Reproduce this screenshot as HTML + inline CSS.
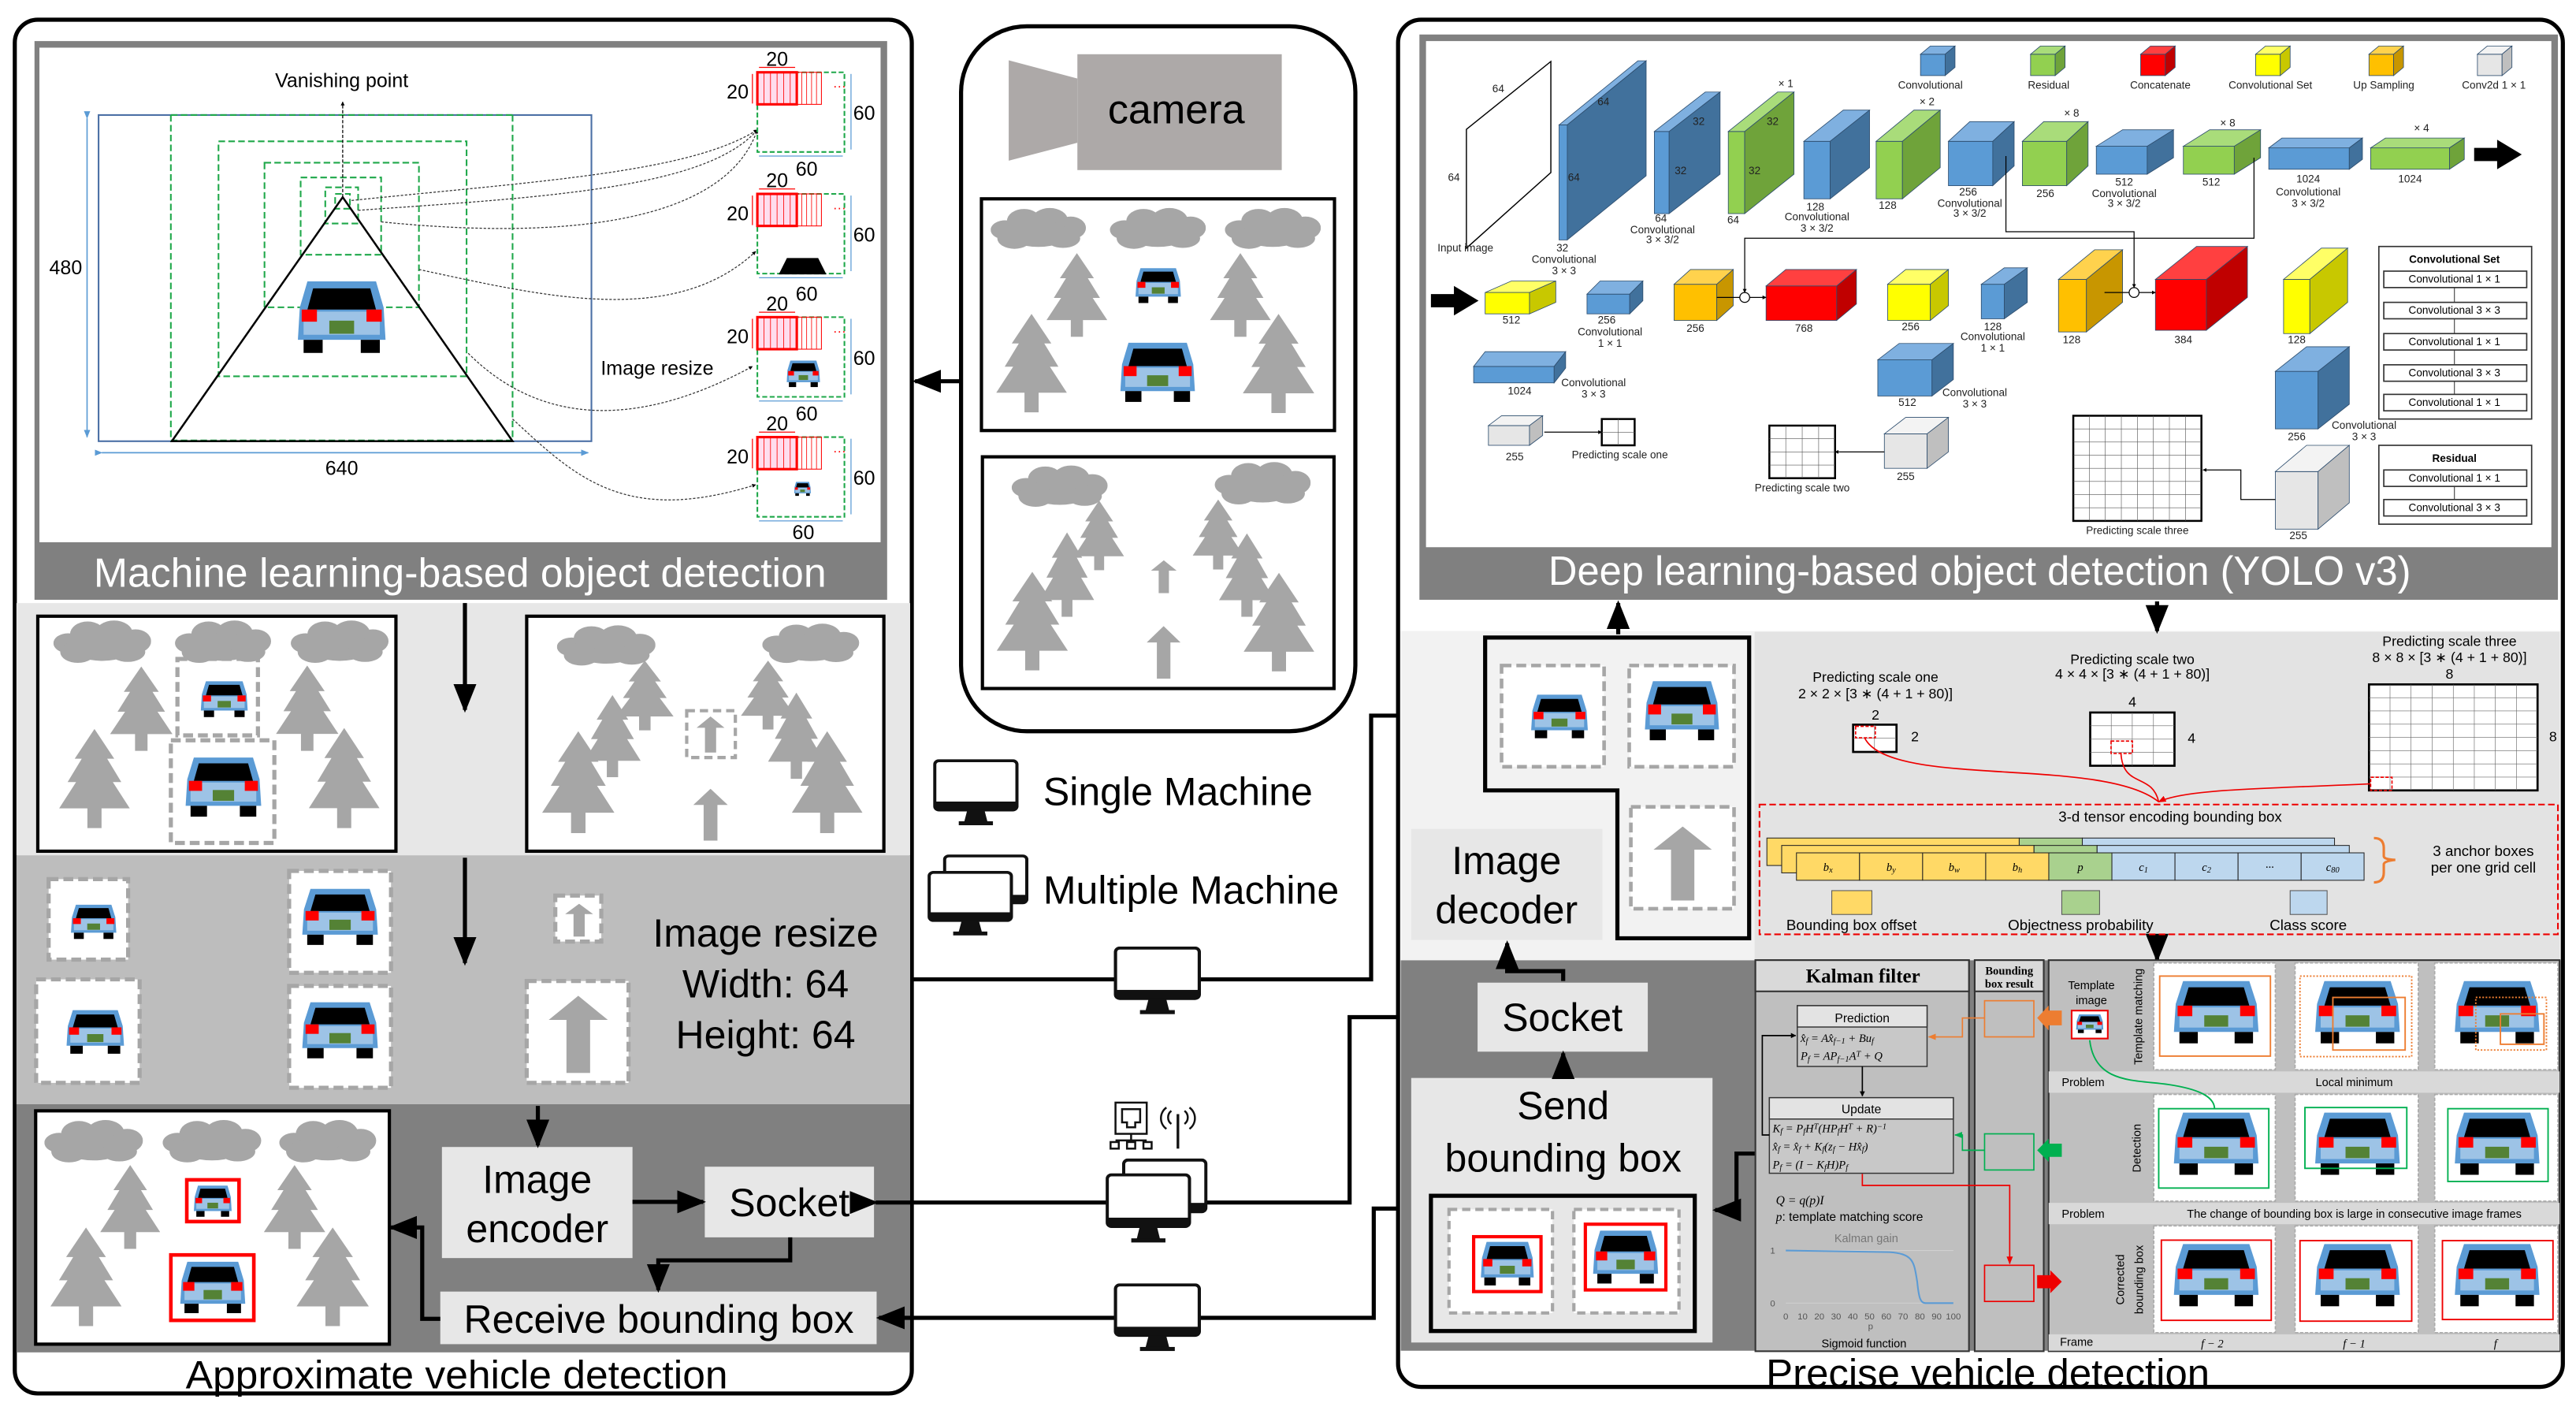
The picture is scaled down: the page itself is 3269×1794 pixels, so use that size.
<!DOCTYPE html>
<html><head><meta charset="utf-8"><style>
html,body{margin:0;padding:0;background:#fff;}
svg{display:block;font-family:"Liberation Sans",sans-serif;}
</style></head><body>
<svg width="3269" height="1794" viewBox="0 0 1568 860.5" preserveAspectRatio="none" xmlns="http://www.w3.org/2000/svg">
<defs>
<symbol id="tree" viewBox="0 0 100 140" preserveAspectRatio="none"><path d="M50 0 L78 42 L68 42 L88 75 L76 75 L100 112 L0 112 L24 75 L12 75 L32 42 L22 42 Z" fill="#a6a6a6"/><rect x="40" y="111" width="20" height="29" fill="#a6a6a6"/></symbol>
<symbol id="cloud" viewBox="0 0 100 45" preserveAspectRatio="none"><g fill="#a6a6a6"><ellipse cx="15" cy="24" rx="15" ry="10"/><ellipse cx="35" cy="15" rx="18" ry="13"/><ellipse cx="62" cy="14" rx="19" ry="13"/><ellipse cx="84" cy="22" rx="16" ry="12"/><ellipse cx="50" cy="28" rx="32" ry="14"/><ellipse cx="25" cy="33" rx="18" ry="11"/><ellipse cx="76" cy="33" rx="18" ry="10"/></g></symbol>
<symbol id="car" viewBox="0 0 100 75" preserveAspectRatio="none"><path d="M14 2 L86 2 L94 28 L96 60 L4 60 L6 28 Z" fill="#5b9bd5"/><rect x="10" y="32" width="80" height="23" fill="#9dc3e6"/><path d="M20 9 L80 9 L86 30 L14 30 Z" fill="#000"/><rect x="8" y="30" width="16" height="12" fill="#f00"/><rect x="76" y="30" width="16" height="12" fill="#f00"/><rect x="37" y="41" width="26" height="13" fill="#548235"/><rect x="10" y="60" width="20" height="13" fill="#000"/><rect x="70" y="60" width="20" height="13" fill="#000"/></symbol>
<symbol id="arr" viewBox="0 0 100 160" preserveAspectRatio="none"><polygon points="50,0 100,50 70,50 70,160 30,160 30,50 0,50" fill="#a6a6a6"/></symbol>
<symbol id="mon" viewBox="0 0 160 140" preserveAspectRatio="none"><rect x="3" y="3" width="154" height="100" rx="8" fill="#fff" stroke="#111" stroke-width="6"/><rect x="3" y="86" width="154" height="17" fill="#111"/><polygon points="64,103 96,103 102,128 58,128" fill="#111"/><rect x="48" y="126" width="64" height="8" fill="#111"/></symbol>
<marker id="ah" viewBox="0 0 10 10" refX="9" refY="5" markerWidth="4" markerHeight="4" orient="auto"><path d="M0 0 L10 5 L0 10 Z" fill="#000"/></marker>
<marker id="as" viewBox="0 0 10 10" refX="9" refY="5" markerWidth="7" markerHeight="7" orient="auto"><path d="M0 1 L10 5 L0 9 Z" fill="#000"/></marker>
<marker id="ar" viewBox="0 0 10 10" refX="9" refY="5" markerWidth="6" markerHeight="6" orient="auto"><path d="M0 1 L10 5 L0 9 Z" fill="#e00"/></marker>
<marker id="ao" viewBox="0 0 10 10" refX="9" refY="5" markerWidth="6" markerHeight="6" orient="auto"><path d="M0 1 L10 5 L0 9 Z" fill="#ed7d31"/></marker>
<marker id="ag" viewBox="0 0 10 10" refX="9" refY="5" markerWidth="6" markerHeight="6" orient="auto"><path d="M0 1 L10 5 L0 9 Z" fill="#00b050"/></marker>
<marker id="ab" viewBox="0 0 10 10" refX="9" refY="5" markerWidth="6" markerHeight="6" orient="auto"><path d="M0 1 L10 5 L0 9 Z" fill="#5b9bd5"/></marker>
</defs>

<!-- ================= LEFT PANEL ================= -->
<rect x="9" y="12" width="546" height="836" rx="14" fill="#fff" stroke="#000" stroke-width="2.5"/>
<rect x="21" y="25" width="519" height="340" fill="#808080"/>
<rect x="24" y="29" width="512" height="301" fill="#fff"/>
<text x="280" y="357" font-size="25" fill="#fff" text-anchor="middle" textLength="446" lengthAdjust="spacingAndGlyphs">Machine learning-based object detection</text>
<!-- vanishing figure -->
<rect x="60" y="70" width="300" height="198.5" fill="none" stroke="#4a6fa5" stroke-width="1"/>
<g fill="none" stroke="#1fa84a" stroke-width="1" stroke-dasharray="4 2">
<line x1="104" y1="70" x2="104" y2="268"/><line x1="312" y1="70" x2="312" y2="268"/><line x1="104" y1="268" x2="312" y2="268"/><line x1="104" y1="70" x2="312" y2="70"/>
<rect x="133" y="86" width="151" height="143"/><rect x="161" y="99" width="94" height="88"/><rect x="183" y="108" width="49" height="47"/><rect x="198" y="114" width="20" height="22"/><rect x="204" y="118" width="9" height="9"/>
</g>
<polygon points="208.6,120 104.6,268.5 312,268.5" fill="none" stroke="#000" stroke-width="1.2"/>
<use href="#car" x="179" y="170" width="58" height="46"/>
<line x1="208.6" y1="120" x2="208.6" y2="62" stroke="#000" stroke-width="0.6" stroke-dasharray="2 1" marker-end="url(#ah)"/>
<text x="208" y="53" font-size="12" text-anchor="middle">Vanishing point</text>
<line x1="53" y1="72" x2="53" y2="266" stroke="#5b9bd5" stroke-width="0.8" marker-end="url(#ab)" marker-start="url(#ab)"/>
<text x="40" y="167" font-size="12" text-anchor="middle">480</text>
<line x1="62" y1="275.5" x2="358" y2="275.5" stroke="#5b9bd5" stroke-width="0.8" marker-end="url(#ab)" marker-start="url(#ab)"/>
<text x="208" y="289" font-size="12" text-anchor="middle">640</text>
<text x="400" y="228" font-size="12" text-anchor="middle">Image resize</text>
<g fill="none" stroke="#333" stroke-width="0.6" stroke-dasharray="1.5 1">
<path d="M214 122 C330 110 420 105 461 79" marker-end="url(#ah)"/>
<path d="M218 128 C330 120 430 115 461 79" marker-end="url(#ah)"/>
<path d="M232 135 C330 145 440 140 461 79" marker-end="url(#ah)"/>
<path d="M255 164 C330 180 410 200 460 153" marker-end="url(#ah)"/>
<path d="M285 215 C330 260 390 260 458 223" marker-end="url(#ah)"/>
<path d="M312 255 C350 290 380 320 460 295" marker-end="url(#ah)"/>
</g>
<!-- crops -->
<g>
<g id="crop1">
<rect x="461" y="44" width="53" height="48.5" fill="none" stroke="#1fa84a" stroke-width="1" stroke-dasharray="3 1.5"/>
<rect x="485" y="44" width="15" height="19.5" fill="none" stroke="#f00" stroke-width="0.5"/>
<g stroke="#f00" stroke-width="0.4"><line x1="488" y1="44" x2="488" y2="63.5"/><line x1="491" y1="44" x2="491" y2="63.5"/><line x1="494" y1="44" x2="494" y2="63.5"/><line x1="497" y1="44" x2="497" y2="63.5"/></g>
<rect x="461" y="44" width="24" height="19.5" fill="#fde" stroke="#f00" stroke-width="1.5"/>
<g stroke="#f00" stroke-width="0.4"><line x1="465" y1="44" x2="465" y2="63.5"/><line x1="469" y1="44" x2="469" y2="63.5"/><line x1="473" y1="44" x2="473" y2="63.5"/><line x1="477" y1="44" x2="477" y2="63.5"/><line x1="481" y1="44" x2="481" y2="63.5"/></g>
<text x="507" y="55" font-size="8" fill="#f00">···</text>
<line x1="462" y1="41" x2="484" y2="41" stroke="#f00" stroke-width="0.6"/>
<line x1="458" y1="45" x2="458" y2="63" stroke="#f00" stroke-width="0.6"/>
<line x1="518" y1="45" x2="518" y2="91" stroke="#5b9bd5" stroke-width="0.6"/>
<line x1="462" y1="95" x2="513" y2="95" stroke="#5b9bd5" stroke-width="0.6"/>
<text x="449" y="60" font-size="12" text-anchor="middle">20</text>
<text x="473" y="40" font-size="12" text-anchor="middle">20</text>
<text x="526" y="73" font-size="12" text-anchor="middle">60</text>
</g>
<use href="#crop1" y="74"/>
<use href="#crop1" y="149"/>
<use href="#crop1" y="222"/>
<text x="491" y="107" font-size="12" text-anchor="middle">60</text>
<text x="491" y="183" font-size="12" text-anchor="middle">60</text>
<text x="491" y="256" font-size="12" text-anchor="middle">60</text>
<text x="489" y="328" font-size="12" text-anchor="middle">60</text>
<polygon points="479,157 498,157 503,167 474,167" fill="#000"/>
<use href="#car" x="478" y="219" width="22" height="17"/>
<use href="#car" x="483" y="293" width="11" height="9"/>
</g>

<!-- band 2 -->
<rect x="10" y="367" width="544" height="153.5" fill="#e7e7e7"/>
<rect x="23" y="375" width="218" height="143" fill="#fff" stroke="#000" stroke-width="2"/>
<use href="#cloud" x="32.5" y="377" width="59.5" height="27"/>
<use href="#cloud" x="106.5" y="377" width="58.5" height="27"/>
<use href="#cloud" x="177" y="377" width="59.5" height="27"/>
<use href="#tree" x="67" y="405.6" width="38" height="51.4"/>
<use href="#tree" x="36" y="443.6" width="43" height="60.4"/>
<use href="#tree" x="168" y="405" width="38" height="52"/>
<use href="#tree" x="188" y="443" width="43" height="61"/>
<rect x="108" y="401" width="49" height="46.5" fill="none" stroke="#a6a6a6" stroke-width="2.5" stroke-dasharray="6 3"/>
<use href="#car" x="121" y="414" width="31" height="23"/>
<rect x="104" y="450.5" width="63" height="62.5" fill="none" stroke="#a6a6a6" stroke-width="2.5" stroke-dasharray="6 3"/>
<use href="#car" x="111" y="460" width="50" height="38"/>
<rect x="320.6" y="375" width="217.4" height="143" fill="#fff" stroke="#000" stroke-width="2"/>
<use href="#cloud" x="339" y="380" width="60" height="25.6"/>
<use href="#cloud" x="464" y="379" width="59" height="25"/>
<use href="#tree" x="375" y="402" width="35" height="42.5"/>
<use href="#tree" x="355.6" y="423" width="34.4" height="50"/>
<use href="#tree" x="330" y="445" width="44" height="62"/>
<use href="#tree" x="451" y="402" width="33" height="42"/>
<use href="#tree" x="467.5" y="421.5" width="34.5" height="52.5"/>
<use href="#tree" x="482" y="445" width="43" height="62"/>
<rect x="418" y="432.5" width="29.6" height="28.5" fill="none" stroke="#a6a6a6" stroke-width="2" stroke-dasharray="5 3"/>
<use href="#arr" x="424" y="436" width="17" height="22"/>
<use href="#arr" x="422" y="480" width="21" height="31.6"/>

<!-- band 3 -->
<rect x="10" y="520.5" width="544" height="151.5" fill="#bdbdbd"/>
<g fill="#fff" stroke="#a6a6a6" stroke-width="2.5" stroke-dasharray="6 3">
<rect x="29.6" y="535" width="48.4" height="49"/><rect x="176" y="530" width="62" height="62"/><rect x="22" y="596" width="63" height="63"/><rect x="176" y="600" width="62" height="62"/><rect x="338" y="545" width="28" height="28"/><rect x="320.6" y="597" width="62" height="62"/>
</g>
<use href="#car" x="42" y="550" width="30" height="22"/>
<use href="#car" x="182" y="540" width="50" height="36"/>
<use href="#car" x="39" y="614" width="38" height="28"/>
<use href="#car" x="182" y="609" width="50" height="36"/>
<use href="#arr" x="344" y="550" width="17" height="20"/>
<use href="#arr" x="334" y="606" width="36" height="47"/>
<text x="466" y="576" font-size="24" text-anchor="middle">Image resize</text>
<text x="466" y="607" font-size="24" text-anchor="middle">Width: 64</text>
<text x="466" y="638" font-size="24" text-anchor="middle">Height: 64</text>

<!-- band 4 -->
<rect x="10" y="672" width="544" height="151" fill="#808080"/>
<rect x="21.7" y="676" width="215.3" height="142" fill="#fff" stroke="#000" stroke-width="2"/>
<use href="#cloud" x="27" y="681" width="60" height="27"/>
<use href="#cloud" x="99" y="681" width="60" height="27"/>
<use href="#cloud" x="170" y="681" width="59" height="27"/>
<use href="#tree" x="61" y="709" width="36.5" height="51"/>
<use href="#tree" x="30.7" y="747" width="43.3" height="60"/>
<use href="#tree" x="160.6" y="709" width="37.4" height="51"/>
<use href="#tree" x="180.5" y="747" width="44" height="60"/>
<rect x="113.7" y="718" width="31.8" height="25.4" fill="none" stroke="#f00" stroke-width="2.2"/>
<use href="#car" x="117" y="721" width="25" height="20"/>
<rect x="104" y="763.7" width="50.5" height="39.8" fill="none" stroke="#f00" stroke-width="2.2"/>
<use href="#car" x="108" y="767" width="43" height="33"/>
<rect x="269" y="698" width="116" height="67.6" fill="#e7e7e7"/>
<text x="327" y="726" font-size="24" text-anchor="middle">Image</text>
<text x="327" y="756" font-size="24" text-anchor="middle">encoder</text>
<rect x="429" y="710" width="103" height="43" fill="#e7e7e7"/>
<text x="480.5" y="740" font-size="24" text-anchor="middle">Socket</text>
<rect x="268" y="786" width="265.6" height="32" fill="#e7e7e7"/>
<text x="401" y="811" font-size="24" text-anchor="middle">Receive bounding box</text>
<g fill="none" stroke="#000" stroke-width="2.5">
<line x1="283" y1="367" x2="283" y2="432" marker-end="url(#as)"/>
<line x1="283" y1="522" x2="283" y2="586" marker-end="url(#as)"/>
<line x1="327.4" y1="673" x2="327.4" y2="697" marker-end="url(#as)"/>
<line x1="385" y1="731.4" x2="428" y2="731.4" marker-end="url(#as)"/>
<polyline points="481,753 481,767 400.7,767 400.7,785" marker-end="url(#as)"/>
<polyline points="268,802.6 257,802.6 257,747 238,747" marker-end="url(#as)"/>
</g>
<text x="278" y="845" font-size="24" text-anchor="middle" textLength="330" lengthAdjust="spacingAndGlyphs">Approximate vehicle detection</text>

<!-- ================= MIDDLE ================= -->
<rect x="585" y="16" width="240" height="429" rx="40" fill="#fff" stroke="#000" stroke-width="2.5"/>
<rect x="655.8" y="33" width="124.4" height="70.5" fill="#ada9a8"/>
<polygon points="614,36.7 655.8,47.8 655.8,86.9 614,97.8" fill="#ada9a8"/>
<text x="716" y="75" font-size="25" text-anchor="middle">camera</text>
<rect x="597.4" y="121" width="214.9" height="141" fill="#fff" stroke="#000" stroke-width="2"/>
<use href="#cloud" x="603" y="126" width="58" height="26"/>
<use href="#cloud" x="675.6" y="126" width="58.4" height="26"/>
<use href="#cloud" x="745.6" y="126" width="58.4" height="26"/>
<use href="#tree" x="637" y="154" width="37" height="51"/>
<use href="#tree" x="606.4" y="191" width="43" height="60"/>
<use href="#tree" x="736.5" y="154" width="37" height="51"/>
<use href="#tree" x="756.5" y="191" width="43.5" height="60.4"/>
<use href="#car" x="690" y="162.6" width="30" height="22.4"/>
<use href="#car" x="680" y="207.6" width="49.3" height="38"/>
<rect x="598" y="278" width="214" height="141" fill="#fff" stroke="#000" stroke-width="2"/>
<use href="#cloud" x="615.8" y="282.7" width="58.4" height="26.3"/>
<use href="#cloud" x="739.4" y="280.6" width="58.4" height="27"/>
<use href="#tree" x="653.9" y="304.6" width="30.3" height="42.4"/>
<use href="#tree" x="633" y="324" width="33" height="51.4"/>
<use href="#tree" x="606.7" y="348" width="43.3" height="60"/>
<use href="#tree" x="726" y="304" width="31" height="42.6"/>
<use href="#tree" x="742" y="324.6" width="34" height="50.8"/>
<use href="#tree" x="757" y="348.6" width="43" height="60"/>
<use href="#arr" x="700.6" y="341" width="15.6" height="20"/>
<use href="#arr" x="698" y="381" width="20.6" height="32"/>
<line x1="584" y1="232" x2="557" y2="232" stroke="#000" stroke-width="2.5" marker-end="url(#as)"/>
<!-- legend -->
<use href="#mon" x="568" y="462" width="52" height="42"/>
<text x="635" y="490" font-size="24">Single Machine</text>
<use href="#mon" x="574" y="520" width="52" height="40"/>
<use href="#mon" x="564.6" y="530" width="52" height="41"/>
<text x="635" y="550" font-size="24">Multiple Machine</text>
<!-- connectors -->
<g fill="none" stroke="#000" stroke-width="2.5">
<polyline points="556,596 834.6,596 834.6,435.5 903,435.5" marker-end="url(#as)"/>
<polyline points="874.5,435.5 874.5,492.6 915.5,492.6 915.5,504.4"/>
<polyline points="533,731.8 821.5,731.8 821.5,619 897,619" marker-end="url(#as)" marker-start="url(#as)"/>
<polyline points="859,735.5 836.2,735.5 836.2,802 535,802" marker-end="url(#as)"/>
</g>
<use href="#mon" x="678" y="576" width="53" height="43"/>
<use href="#mon" x="683" y="705" width="52" height="44"/>
<use href="#mon" x="673" y="714" width="52" height="44"/>
<use href="#mon" x="678" y="781" width="53" height="43"/>
<g fill="none" stroke="#111" stroke-width="1.2">
<rect x="679" y="671" width="19" height="19"/><path d="M683 675 L694 675 L694 683 L691 683 L691 686 L686 686 L686 683 L683 683 Z"/>
<line x1="688.5" y1="690" x2="688.5" y2="694"/><line x1="679" y1="694" x2="698" y2="694"/>
<rect x="676" y="695" width="5" height="4"/><rect x="686" y="695" width="5" height="4"/><rect x="696" y="695" width="5" height="4"/>
<line x1="717" y1="678" x2="717" y2="699" stroke-width="1.6"/>
<path d="M713 676 A5 5 0 0 0 713 684 M721 676 A5 5 0 0 1 721 684 M710 674 A8 8 0 0 0 710 687 M724 674 A8 8 0 0 1 724 687"/>
</g>

<!-- ================= RIGHT PANEL ================= -->
<rect x="851" y="12" width="709" height="832" rx="14" fill="#fff" stroke="#000" stroke-width="2.5"/>
<rect x="864" y="21" width="693" height="344" fill="#808080"/>
<rect x="868" y="25" width="685" height="308" fill="#fff"/>
<text x="1205" y="356" font-size="25" fill="#fff" text-anchor="middle" textLength="525" lengthAdjust="spacingAndGlyphs">Deep learning-based object detection (YOLO v3)</text>
<!-- YOLO -->
<polygon points="892.6,151 892.6,78.7 944,37.4 944,105" fill="#fff" stroke="#000" stroke-width="0.7"/>
<g stroke="#2d4d6e" stroke-width="0.4">
<g fill="#5b9bd5"><rect x="949" y="76" width="5" height="70"/><rect x="1007" y="80" width="9" height="50"/><rect x="1098" y="86" width="16" height="35"/><rect x="1186" y="86" width="27" height="27"/><rect x="1276" y="89" width="31" height="17"/><rect x="1381" y="90" width="49" height="13"/><rect x="966" y="179" width="26" height="12"/><rect x="1206" y="173" width="14" height="21"/><rect x="897" y="223" width="49" height="10"/><rect x="1143" y="219" width="33" height="22"/><rect x="1385" y="226" width="26" height="35"/></g>
<g fill="#7fb0e0"><polygon points="949,76 997,37 1002,37 954,76"/><polygon points="1007,80 1038,56 1047,56 1016,80"/><polygon points="1098,86 1122,67 1138,67 1114,86"/><polygon points="1186,86 1199,74 1226,74 1213,86"/><polygon points="1276,89 1292,79 1323,79 1307,89"/><polygon points="1381,90 1389,84 1438,84 1430,90"/><polygon points="966,179 974,171 1000,171 992,179"/><polygon points="1206,173 1220,163 1234,163 1220,173"/><polygon points="897,223 904,214 953,214 946,223"/><polygon points="1143,219 1156,209 1189,209 1176,219"/><polygon points="1385,226 1404,211 1430,211 1411,226"/></g>
<g fill="#41719c"><polygon points="954,76 1002,37 1002,107 954,146"/><polygon points="1016,80 1047,56 1047,106 1016,130"/><polygon points="1114,86 1138,67 1138,102 1114,121"/><polygon points="1213,86 1226,74 1226,101 1213,113"/><polygon points="1307,89 1323,79 1323,96 1307,106"/><polygon points="1430,90 1438,84 1438,97 1430,103"/><polygon points="992,179 1000,171 1000,183 992,191"/><polygon points="1220,173 1234,163 1234,184 1220,194"/><polygon points="946,223 953,214 953,224 946,233"/><polygon points="1176,219 1189,209 1189,231 1176,241"/><polygon points="1411,226 1430,211 1430,246 1411,261"/></g>
<g fill="#92d050"><rect x="1052" y="80" width="10" height="50"/><rect x="1142" y="86" width="16" height="35"/><rect x="1231" y="86" width="27" height="27"/><rect x="1329" y="89" width="31" height="17"/><rect x="1443" y="90" width="48" height="13"/></g>
<g fill="#a9dc7a"><polygon points="1052,80 1082,56 1092,56 1062,80"/><polygon points="1142,86 1165,67 1181,67 1158,86"/><polygon points="1231,86 1244,74 1271,74 1258,86"/><polygon points="1329,89 1345,79 1376,79 1360,89"/><polygon points="1443,90 1452,84 1500,84 1491,90"/></g>
<g fill="#6fa33a"><polygon points="1062,80 1092,56 1092,106 1062,130"/><polygon points="1158,86 1181,67 1181,102 1158,121"/><polygon points="1258,86 1271,74 1271,101 1258,113"/><polygon points="1360,89 1376,79 1376,96 1360,106"/><polygon points="1491,90 1500,84 1500,97 1491,103"/></g>
<g fill="#ffff00"><rect x="904" y="178" width="27" height="13"/><rect x="1149" y="173" width="26" height="22"/><rect x="1390" y="170" width="16" height="33"/></g>
<g fill="#ffff66"><polygon points="904,178 920,171 947,171 931,178"/><polygon points="1149,173 1160,164 1186,164 1175,173"/><polygon points="1390,170 1413,151 1429,151 1406,170"/></g>
<g fill="#c8c800"><polygon points="931,178 947,171 947,184 931,191"/><polygon points="1175,173 1186,164 1186,186 1175,195"/><polygon points="1406,170 1429,151 1429,184 1406,203"/></g>
<g fill="#ffc000"><rect x="1019" y="173" width="26" height="22"/><rect x="1253" y="170" width="17" height="32"/></g>
<g fill="#ffd24d"><polygon points="1019,173 1029,164 1055,164 1045,173"/><polygon points="1253,170 1275,152 1292,152 1270,170"/></g>
<g fill="#c89600"><polygon points="1045,173 1055,164 1055,186 1045,195"/><polygon points="1270,170 1292,152 1292,184 1270,202"/></g>
<g fill="#ff0000"><rect x="1075" y="174" width="43" height="21"/><rect x="1312" y="170" width="31" height="31"/></g>
<g fill="#ff4040"><polygon points="1075,174 1087,164 1130,164 1118,174"/><polygon points="1312,170 1337,150 1368,150 1343,170"/></g>
<g fill="#c00000"><polygon points="1118,174 1130,164 1130,185 1118,195"/><polygon points="1343,170 1368,150 1368,181 1343,201"/></g>
<g fill="#e6e6e6"><rect x="906" y="259" width="25" height="12"/><rect x="1147" y="264" width="26" height="21"/><rect x="1385" y="287" width="26" height="35"/></g>
<g fill="#f3f3f3"><polygon points="906,259 914,253 939,253 931,259"/><polygon points="1147,264 1160,254 1186,254 1173,264"/><polygon points="1385,287 1404,271 1430,271 1411,287"/></g>
<g fill="#bfbfbf"><polygon points="931,259 939,253 939,265 931,271"/><polygon points="1173,264 1186,254 1186,275 1173,285"/><polygon points="1411,287 1430,271 1430,306 1411,322"/></g>
<!-- legend cubes -->
<rect x="1169" y="33" width="15" height="13" fill="#5b9bd5"/><polygon points="1169,33 1175,28 1190,28 1184,33" fill="#7fb0e0"/><polygon points="1184,33 1190,28 1190,41 1184,46" fill="#41719c"/>
<rect x="1236" y="33" width="15" height="13" fill="#92d050"/><polygon points="1236,33 1242,28 1257,28 1251,33" fill="#a9dc7a"/><polygon points="1251,33 1257,28 1257,41 1251,46" fill="#6fa33a"/>
<rect x="1303" y="33" width="15" height="13" fill="#f00"/><polygon points="1303,33 1309,28 1324,28 1318,33" fill="#ff4040"/><polygon points="1318,33 1324,28 1324,41 1318,46" fill="#c00000"/>
<rect x="1373" y="33" width="15" height="13" fill="#ff0"/><polygon points="1373,33 1379,28 1394,28 1388,33" fill="#ff6"/><polygon points="1388,33 1394,28 1394,41 1388,46" fill="#c8c800"/>
<rect x="1442" y="33" width="15" height="13" fill="#ffc000"/><polygon points="1442,33 1448,28 1463,28 1457,33" fill="#ffd24d"/><polygon points="1457,33 1463,28 1463,41 1457,46" fill="#c89600"/>
<rect x="1508" y="33" width="15" height="13" fill="#e6e6e6"/><polygon points="1508,33 1514,28 1529,28 1523,33" fill="#f3f3f3"/><polygon points="1523,33 1529,28 1529,41 1523,46" fill="#bfbfbf"/>
</g>
<g font-size="6.5" text-anchor="middle" fill="#222">
<text x="1175" y="54">Convolutional</text><text x="1247" y="54">Residual</text><text x="1315" y="54">Concatenate</text><text x="1382" y="54">Convolutional Set</text><text x="1451" y="54">Up Sampling</text><text x="1518" y="54">Conv2d 1 × 1</text>
<text x="912" y="56">64</text><text x="885" y="110">64</text><text x="892" y="153">Input image</text>
<text x="951" y="153">32</text><text x="952" y="160">Convolutional</text><text x="952" y="167">3 × 3</text>
<text x="976" y="64">64</text><text x="958" y="110">64</text>
<text x="1011" y="135">64</text><text x="1012" y="142">Convolutional</text><text x="1012" y="148">3 × 3/2</text>
<text x="1034" y="76">32</text><text x="1023" y="106">32</text>
<text x="1055" y="136">64</text><text x="1079" y="76">32</text><text x="1068" y="106">32</text>
<text x="1105" y="128">128</text><text x="1106" y="134">Convolutional</text><text x="1106" y="141">3 × 3/2</text>
<text x="1149" y="127">128</text><text x="1198" y="119">256</text><text x="1199" y="126">Convolutional</text><text x="1199" y="132">3 × 3/2</text>
<text x="1245" y="120">256</text><text x="1293" y="113">512</text><text x="1293" y="120">Convolutional</text><text x="1293" y="126">3 × 3/2</text>
<text x="1346" y="113">512</text><text x="1405" y="111">1024</text><text x="1405" y="119">Convolutional</text><text x="1405" y="126">3 × 3/2</text><text x="1467" y="111">1024</text>
<text x="1087" y="53">× 1</text><text x="1173" y="64">× 2</text><text x="1261" y="71">× 8</text><text x="1356" y="77">× 8</text><text x="1474" y="80">× 4</text>
<text x="920" y="197">512</text><text x="978" y="197">256</text><text x="980" y="204">Convolutional</text><text x="980" y="211">1 × 1</text>
<text x="1032" y="202">256</text><text x="1098" y="202">768</text><text x="1163" y="201">256</text><text x="1213" y="201">128</text><text x="1213" y="207">Convolutional</text><text x="1213" y="214">1 × 1</text>
<text x="1261" y="209">128</text><text x="1329" y="209">384</text><text x="1398" y="209">128</text>
<text x="925" y="240">1024</text><text x="970" y="235">Convolutional</text><text x="970" y="242">3 × 3</text>
<text x="1161" y="247">512</text><text x="1202" y="241">Convolutional</text><text x="1202" y="248">3 × 3</text>
<text x="1398" y="268">256</text><text x="1439" y="261">Convolutional</text><text x="1439" y="268">3 × 3</text>
<text x="922" y="280">255</text><text x="986" y="279">Predicting scale one</text><text x="1160" y="292">255</text><text x="1097" y="299">Predicting scale two</text><text x="1301" y="325">Predicting scale three</text><text x="1399" y="328">255</text>
</g>
<polygon points="1506,90 1520,90 1520,85 1535,94 1520,103 1520,98 1506,98" fill="#000"/>
<polygon points="871,179 885,179 885,174 900,183 885,192 885,187 871,187" fill="#000"/>
<g fill="none" stroke="#000" stroke-width="0.6">
<polyline points="1221,95 1221,141 1299,141 1299,175" marker-end="url(#ah)"/>
<polyline points="1372,96 1372,145 1062,145 1062,178" marker-end="url(#ah)"/>
<circle cx="1062" cy="181" r="3"/><circle cx="1299" cy="178" r="3"/>
<line x1="1045" y1="181" x2="1059" y2="181"/><line x1="1065" y1="181" x2="1075" y2="181" marker-end="url(#ah)"/>
<line x1="1281" y1="178" x2="1296" y2="178"/><line x1="1302" y1="178" x2="1312" y2="178" marker-end="url(#ah)"/>
<line x1="940" y1="263" x2="975" y2="263" marker-end="url(#ah)"/>
<line x1="1147" y1="275" x2="1117" y2="275" marker-end="url(#ah)"/>
<polyline points="1385,304 1364,304 1364,286 1341,286" marker-end="url(#ah)"/>
</g>
<g fill="#fff" stroke="#000">
<rect x="975" y="255" width="20" height="16" stroke-width="1.2"/>
<rect x="1077" y="259" width="40" height="32" stroke-width="1.2"/>
<rect x="1262" y="253" width="78" height="64" stroke-width="1.2"/>
</g>
<g stroke="#555" stroke-width="0.3">
<line x1="985" y1="255" x2="985" y2="271"/><line x1="975" y1="263" x2="995" y2="263"/>
<line x1="1087" y1="259" x2="1087" y2="291"/><line x1="1097" y1="259" x2="1097" y2="291"/><line x1="1107" y1="259" x2="1107" y2="291"/><line x1="1077" y1="267" x2="1117" y2="267"/><line x1="1077" y1="275" x2="1117" y2="275"/><line x1="1077" y1="283" x2="1117" y2="283"/>
<line x1="1271.75" y1="253" x2="1271.75" y2="317"/><line x1="1281.5" y1="253" x2="1281.5" y2="317"/><line x1="1291.25" y1="253" x2="1291.25" y2="317"/><line x1="1301" y1="253" x2="1301" y2="317"/><line x1="1310.75" y1="253" x2="1310.75" y2="317"/><line x1="1320.5" y1="253" x2="1320.5" y2="317"/><line x1="1330.25" y1="253" x2="1330.25" y2="317"/>
<line x1="1262" y1="261" x2="1340" y2="261"/><line x1="1262" y1="269" x2="1340" y2="269"/><line x1="1262" y1="277" x2="1340" y2="277"/><line x1="1262" y1="285" x2="1340" y2="285"/><line x1="1262" y1="293" x2="1340" y2="293"/><line x1="1262" y1="301" x2="1340" y2="301"/><line x1="1262" y1="309" x2="1340" y2="309"/>
</g>
<!-- conv set / residual -->
<g fill="#fff" stroke="#333" stroke-width="0.8">
<rect x="1448" y="150" width="93" height="105"/>
<rect x="1451" y="165" width="87" height="10"/><rect x="1451" y="184" width="87" height="10"/><rect x="1451" y="203" width="87" height="10"/><rect x="1451" y="222" width="87" height="10"/><rect x="1451" y="240" width="87" height="10"/>
<rect x="1448" y="271" width="93" height="48"/>
<rect x="1451" y="286" width="87" height="10"/><rect x="1451" y="304" width="87" height="10"/>
</g>
<g stroke="#333" stroke-width="0.5"><line x1="1494" y1="175" x2="1494" y2="184"/><line x1="1494" y1="194" x2="1494" y2="203"/><line x1="1494" y1="213" x2="1494" y2="222"/><line x1="1494" y1="232" x2="1494" y2="240"/><line x1="1494" y1="296" x2="1494" y2="304"/></g>
<g font-size="6.5" text-anchor="middle">
<text x="1494" y="160" font-weight="bold">Convolutional Set</text>
<text x="1494" y="172">Convolutional 1 × 1</text><text x="1494" y="191">Convolutional 3 × 3</text><text x="1494" y="210">Convolutional 1 × 1</text><text x="1494" y="229">Convolutional 3 × 3</text><text x="1494" y="247">Convolutional 1 × 1</text>
<text x="1494" y="281" font-weight="bold">Residual</text>
<text x="1494" y="293">Convolutional 1 × 1</text><text x="1494" y="311">Convolutional 3 × 3</text>
</g>

<!-- right mid area -->
<rect x="852.6" y="384" width="706" height="200.4" fill="#f2f2f2"/>
<rect x="1068" y="384.5" width="490" height="200" fill="#e3e3e3"/>
<rect x="852.6" y="584.4" width="706" height="237.6" fill="#808080"/>
<g fill="none" stroke="#000" stroke-width="2.5">
<line x1="985" y1="386" x2="985" y2="367" marker-end="url(#as)"/>
<line x1="1313" y1="366" x2="1313" y2="384" marker-end="url(#as)"/>
<line x1="1313" y1="569" x2="1313" y2="584" marker-end="url(#as)"/>
</g>
<polygon points="904,388 1064.7,388 1064.7,571 984.5,571 984.5,481 904,481" fill="#f2f2f2" stroke="#000" stroke-width="2.5"/>
<g fill="#fff" stroke="#a6a6a6" stroke-width="2.2" stroke-dasharray="6 3">
<rect x="914" y="405" width="62.4" height="61.6"/><rect x="991.7" y="405" width="63.8" height="61.6"/><rect x="992.7" y="491" width="62.8" height="62"/>
</g>
<use href="#car" x="930.5" y="422" width="37.5" height="28"/>
<use href="#car" x="999.3" y="413.5" width="49" height="38"/>
<use href="#arr" x="1006.5" y="503" width="35.5" height="45"/>
<rect x="859" y="504.4" width="116.4" height="67.6" fill="#e7e7e7"/>
<text x="917" y="532" font-size="24" text-anchor="middle">Image</text>
<text x="917" y="562" font-size="24" text-anchor="middle">decoder</text>
<rect x="899.4" y="598" width="103.6" height="42" fill="#e7e7e7"/>
<text x="951" y="627.5" font-size="24" text-anchor="middle">Socket</text>
<rect x="859" y="656" width="183.4" height="161" fill="#e7e7e7"/>
<text x="951.5" y="681" font-size="24" text-anchor="middle">Send</text>
<text x="951.5" y="713" font-size="24" text-anchor="middle">bounding box</text>
<rect x="871" y="727.7" width="160.6" height="82.3" fill="#e7e7e7" stroke="#000" stroke-width="2.5"/>
<g fill="#fff" stroke="#a6a6a6" stroke-width="2" stroke-dasharray="5 3"><rect x="882" y="736" width="63" height="63"/><rect x="958" y="736" width="64" height="63"/></g>
<rect x="897" y="752.6" width="41" height="33.4" fill="none" stroke="#f00" stroke-width="2"/>
<use href="#car" x="900" y="755" width="35" height="28"/>
<rect x="965" y="745" width="49" height="40" fill="none" stroke="#f00" stroke-width="2"/>
<use href="#car" x="968" y="748" width="43" height="34"/>
<g fill="none" stroke="#000" stroke-width="2.5">
<polyline points="951.5,597 951.5,591 917.4,591 917.4,574" marker-end="url(#as)"/>
<line x1="951.5" y1="656" x2="951.5" y2="641" marker-end="url(#as)"/>
<polyline points="1069.6,702 1057,702 1057,736.4 1044,736.4" marker-end="url(#as)"/>
</g>

<!-- predicting scales -->
<g font-size="8.5" text-anchor="middle">
<text x="1141.6" y="415">Predicting scale one</text><text x="1141.6" y="425">2 × 2 × [3 ∗ (4 + 1 + 80)]</text><text x="1141.6" y="438">2</text><text x="1165.6" y="451">2</text>
<text x="1298" y="404">Predicting scale two</text><text x="1298" y="413">4 × 4 × [3 ∗ (4 + 1 + 80)]</text><text x="1298" y="430">4</text><text x="1334" y="452">4</text>
<text x="1491" y="393">Predicting scale three</text><text x="1491" y="403">8 × 8 × [3 ∗ (4 + 1 + 80)]</text><text x="1491" y="413">8</text><text x="1554" y="451">8</text>
</g>
<g fill="#fff" stroke="#000" stroke-width="1.3">
<rect x="1128" y="441" width="26.4" height="16.6"/><rect x="1272.3" y="433.6" width="51.3" height="32.4"/><rect x="1442" y="416.5" width="102.6" height="64.5"/>
</g>
<g stroke="#666" stroke-width="0.3">
<line x1="1141" y1="441" x2="1141" y2="457.6"/><line x1="1128" y1="449.3" x2="1154.4" y2="449.3"/>
<line x1="1285.1" y1="433.6" x2="1285.1" y2="466"/><line x1="1297.9" y1="433.6" x2="1297.9" y2="466"/><line x1="1310.8" y1="433.6" x2="1310.8" y2="466"/><line x1="1272.3" y1="441.7" x2="1323.6" y2="441.7"/><line x1="1272.3" y1="449.8" x2="1323.6" y2="449.8"/><line x1="1272.3" y1="457.9" x2="1323.6" y2="457.9"/>
<line x1="1454.8" y1="416.5" x2="1454.8" y2="481"/><line x1="1467.6" y1="416.5" x2="1467.6" y2="481"/><line x1="1480.5" y1="416.5" x2="1480.5" y2="481"/><line x1="1493.3" y1="416.5" x2="1493.3" y2="481"/><line x1="1506.1" y1="416.5" x2="1506.1" y2="481"/><line x1="1518.9" y1="416.5" x2="1518.9" y2="481"/><line x1="1531.8" y1="416.5" x2="1531.8" y2="481"/>
<line x1="1442" y1="424.6" x2="1544.6" y2="424.6"/><line x1="1442" y1="432.6" x2="1544.6" y2="432.6"/><line x1="1442" y1="440.7" x2="1544.6" y2="440.7"/><line x1="1442" y1="448.8" x2="1544.6" y2="448.8"/><line x1="1442" y1="456.8" x2="1544.6" y2="456.8"/><line x1="1442" y1="464.9" x2="1544.6" y2="464.9"/><line x1="1442" y1="472.9" x2="1544.6" y2="472.9"/>
</g>
<g fill="none" stroke="#e00" stroke-width="0.8">
<rect x="1129.5" y="442" width="12" height="7" stroke-dasharray="2 1"/>
<rect x="1285" y="451" width="13" height="7.5" stroke-dasharray="2 1"/>
<rect x="1443" y="473" width="13" height="8" stroke-dasharray="2 1"/>
<path d="M1135 449 C1150 480 1280 460 1314 488"/>
<path d="M1291 458 C1292 480 1310 470 1314 488"/>
<path d="M1443 477 C1380 480 1330 480 1314 488" marker-end="url(#ar)"/>
</g>
<rect x="1071" y="489.6" width="486" height="79" fill="none" stroke="#e00" stroke-width="1" stroke-dasharray="4 2"/>
<text x="1321" y="500" font-size="9" text-anchor="middle">3-d tensor encoding bounding box</text>
<g stroke="#222" stroke-width="0.5">
<g transform="translate(-18,-9)"><rect x="1093.5" y="519" width="153.6" height="16.7" fill="#ffd966"/><rect x="1247.1" y="519" width="38.4" height="16.7" fill="#a9d18e"/><rect x="1285.5" y="519" width="153.5" height="16.7" fill="#bdd7ee"/></g>
<g transform="translate(-9,-4.5)"><rect x="1093.5" y="519" width="153.6" height="16.7" fill="#ffd966"/><rect x="1247.1" y="519" width="38.4" height="16.7" fill="#a9d18e"/><rect x="1285.5" y="519" width="153.5" height="16.7" fill="#bdd7ee"/></g>
<rect x="1093.5" y="519" width="38.4" height="16.7" fill="#ffd966"/><rect x="1131.9" y="519" width="38.4" height="16.7" fill="#ffd966"/><rect x="1170.3" y="519" width="38.4" height="16.7" fill="#ffd966"/><rect x="1208.7" y="519" width="38.4" height="16.7" fill="#ffd966"/><rect x="1247.1" y="519" width="38.4" height="16.7" fill="#a9d18e"/><rect x="1285.5" y="519" width="38.4" height="16.7" fill="#bdd7ee"/><rect x="1323.9" y="519" width="38.4" height="16.7" fill="#bdd7ee"/><rect x="1362.3" y="519" width="38.4" height="16.7" fill="#bdd7ee"/><rect x="1400.7" y="519" width="38.3" height="16.7" fill="#bdd7ee"/>
</g>
<g font-size="7" font-style="italic" font-family="Liberation Serif,serif" text-anchor="middle">
<text x="1112.7" y="530">b<tspan font-size="5" dy="1">x</tspan></text><text x="1151.1" y="530">b<tspan font-size="5" dy="1">y</tspan></text><text x="1189.5" y="530">b<tspan font-size="5" dy="1">w</tspan></text><text x="1227.9" y="530">b<tspan font-size="5" dy="1">h</tspan></text><text x="1266.3" y="530">p</text><text x="1304.7" y="530">c<tspan font-size="5" dy="1">1</tspan></text><text x="1343.1" y="530">c<tspan font-size="5" dy="1">2</tspan></text><text x="1381.5" y="530">···</text><text x="1419.9" y="530">c<tspan font-size="5" dy="1">80</tspan></text>
</g>
<path d="M1445 510 Q1451 510 1451 516 L1451 521 Q1451 523 1458 523.3 Q1451 524 1451 526 L1451 531 Q1451 537 1445 537" fill="none" stroke="#ed7d31" stroke-width="1.5"/>
<text x="1511.6" y="521" font-size="9" text-anchor="middle">3 anchor boxes</text>
<text x="1511.6" y="531" font-size="9" text-anchor="middle">per one grid cell</text>
<rect x="1115" y="542" width="24.4" height="14.5" fill="#ffd966" stroke="#555" stroke-width="0.5"/>
<rect x="1255" y="542" width="23" height="14.5" fill="#a9d18e" stroke="#555" stroke-width="0.5"/>
<rect x="1394" y="542" width="22.5" height="14.5" fill="#bdd7ee" stroke="#555" stroke-width="0.5"/>
<g font-size="9" text-anchor="middle"><text x="1127" y="566">Bounding box offset</text><text x="1266.5" y="566">Objectness probability</text><text x="1405" y="566">Class score</text></g>

<!-- Kalman -->
<rect x="1068.5" y="584.3" width="130" height="238" fill="#bfbfbf" stroke="#333" stroke-width="1"/>
<rect x="1068.5" y="584.3" width="130" height="19" fill="#d9d9d9" stroke="#333" stroke-width="1"/>
<text x="1134" y="598" font-size="12" font-weight="bold" font-family="Liberation Serif,serif" text-anchor="middle">Kalman filter</text>
<rect x="1202" y="584.3" width="42" height="238" fill="#bfbfbf" stroke="#333" stroke-width="1"/>
<rect x="1202" y="584.3" width="42" height="19" fill="#d9d9d9" stroke="#333" stroke-width="1"/>
<text x="1223" y="593" font-size="7" font-weight="bold" font-family="Liberation Serif,serif" text-anchor="middle">Bounding</text>
<text x="1223" y="601" font-size="7" font-weight="bold" font-family="Liberation Serif,serif" text-anchor="middle">box result</text>
<rect x="1247" y="584.3" width="311" height="238" fill="#bfbfbf" stroke="#333" stroke-width="1"/>
<rect x="1094" y="612" width="79" height="37" fill="#c8c8c8" stroke="#333" stroke-width="0.7"/>
<rect x="1094" y="612" width="79" height="13" fill="#e3e3e3" stroke="#333" stroke-width="0.7"/>
<text x="1133.5" y="622" font-size="7.5" text-anchor="middle">Prediction</text>
<g font-size="7" font-style="italic" font-family="Liberation Serif,serif"><text x="1096" y="634">x̂<tspan font-size="5" dy="1">f</tspan><tspan dy="-1"> = Ax̂</tspan><tspan font-size="5" dy="1">f−1</tspan><tspan dy="-1"> + Bu</tspan><tspan font-size="5" dy="1">f</tspan></text><text x="1096" y="645">P<tspan font-size="5" dy="1">f</tspan><tspan dy="-1"> = AP</tspan><tspan font-size="5" dy="1">f−1</tspan><tspan dy="-1">A</tspan><tspan font-size="5" dy="-2">T</tspan><tspan dy="2"> + Q</tspan></text></g>
<rect x="1077" y="668" width="112" height="46" fill="#c8c8c8" stroke="#333" stroke-width="0.7"/>
<rect x="1077" y="668" width="112" height="13" fill="#e3e3e3" stroke="#333" stroke-width="0.7"/>
<text x="1133" y="677.5" font-size="7.5" text-anchor="middle">Update</text>
<g font-size="7" font-style="italic" font-family="Liberation Serif,serif"><text x="1079" y="689">K<tspan font-size="5" dy="1">f</tspan><tspan dy="-1"> = P</tspan><tspan font-size="5" dy="1">f</tspan><tspan dy="-1">H</tspan><tspan font-size="5" dy="-2">T</tspan><tspan dy="2">(HP</tspan><tspan font-size="5" dy="1">f</tspan><tspan dy="-1">H</tspan><tspan font-size="5" dy="-2">T</tspan><tspan dy="2"> + R)</tspan><tspan font-size="5" dy="-2">−1</tspan></text><text x="1079" y="700">x̂<tspan font-size="5" dy="1">f</tspan><tspan dy="-1"> = x̂</tspan><tspan font-size="5" dy="1">f</tspan><tspan dy="-1"> + K</tspan><tspan font-size="5" dy="1">f</tspan><tspan dy="-1">(z</tspan><tspan font-size="5" dy="1">f</tspan><tspan dy="-1"> − Hx̂</tspan><tspan font-size="5" dy="1">f</tspan><tspan dy="-1">)</tspan></text><text x="1079" y="711">P<tspan font-size="5" dy="1">f</tspan><tspan dy="-1"> = (I − K</tspan><tspan font-size="5" dy="1">f</tspan><tspan dy="-1">H)P</tspan><tspan font-size="5" dy="1">f</tspan></text></g>
<g fill="none" stroke-width="0.8">
<line x1="1133.6" y1="649" x2="1133.6" y2="667" stroke="#000" marker-end="url(#ah)"/>
<polyline points="1077,690.7 1072.7,690.7 1072.7,630.2 1093,630.2" stroke="#000" marker-end="url(#ah)"/>
<polyline points="1208,619.5 1194.5,619.5 1194.5,631 1174,631" stroke="#ed7d31" marker-end="url(#ao)"/>
<polyline points="1208,700 1194.5,700 1194.5,690.7 1190,690.7" stroke="#00b050" marker-end="url(#ag)"/>
<polyline points="1133.6,714.4 1133.6,721.4 1223.3,721.4 1223.3,769" stroke="#e00" marker-end="url(#ar)"/>
</g>
<rect x="1208" y="609" width="30" height="22" fill="none" stroke="#ed7d31" stroke-width="0.8"/>
<rect x="1208" y="690" width="30" height="22" fill="none" stroke="#00b050" stroke-width="0.8"/>
<rect x="1208" y="770" width="30" height="22" fill="none" stroke="#e00" stroke-width="0.8"/>
<polygon points="1255,615 1247,615 1247,612 1240,619.5 1247,627 1247,624 1255,624" fill="#ed7d31"/>
<polygon points="1255,696 1247,696 1247,693 1240,700 1247,707 1247,704 1255,704" fill="#00b050"/>
<polygon points="1240,776 1248,776 1248,773 1255,780 1248,787 1248,784 1240,784" fill="#e00"/>
<g font-size="7.5" font-style="italic" font-family="Liberation Serif,serif"><text x="1081" y="733">Q = q(p)I</text><text x="1081" y="743">p<tspan font-style="normal" font-family="Liberation Sans,sans-serif">: template matching score</tspan></text></g>
<text x="1136" y="756" font-size="7" fill="#777" text-anchor="middle">Kalman gain</text>
<line x1="1087" y1="761" x2="1189" y2="761" stroke="#d0d0d0" stroke-width="0.5"/>
<line x1="1087" y1="793" x2="1189" y2="793" stroke="#d0d0d0" stroke-width="0.5"/>
<path d="M1087 761 L1150 762 C1165 763 1165 768 1167 780 C1168 790 1169 793 1172 793 L1189 793" fill="none" stroke="#5b9bd5" stroke-width="1"/>
<g font-size="5.5" fill="#555" text-anchor="middle"><text x="1079" y="763">1</text><text x="1079" y="795">0</text>
<text x="1087" y="803">0</text><text x="1097.2" y="803">10</text><text x="1107.4" y="803">20</text><text x="1117.6" y="803">30</text><text x="1127.8" y="803">40</text><text x="1138" y="803">50</text><text x="1148.2" y="803">60</text><text x="1158.4" y="803">70</text><text x="1168.6" y="803">80</text><text x="1178.8" y="803">90</text><text x="1189" y="803">100</text><text x="1138.6" y="809">p</text></g>
<text x="1134.6" y="820" font-size="7" text-anchor="middle">Sigmoid function</text>
<!-- right grid -->
<rect x="1247" y="652" width="311" height="13" fill="#d9d9d9"/>
<rect x="1247" y="732" width="311" height="13" fill="#d9d9d9"/>
<rect x="1247" y="812" width="311" height="10" fill="#d9d9d9"/>
<g fill="#fff" stroke="#aaa" stroke-width="0.8" stroke-dasharray="2 1">
<rect x="1311" y="586" width="74" height="65"/><rect x="1397" y="586" width="75" height="65"/><rect x="1482" y="586" width="75" height="65"/>
<rect x="1311" y="666" width="74" height="65"/><rect x="1397" y="666" width="75" height="65"/><rect x="1482" y="666" width="75" height="65"/>
<rect x="1311" y="746" width="74" height="65"/><rect x="1397" y="746" width="75" height="65"/><rect x="1482" y="746" width="75" height="65"/>
</g>
<use href="#car" x="1321" y="596" width="56" height="40"/><use href="#car" x="1407" y="596" width="56" height="40"/><use href="#car" x="1492" y="596" width="56" height="40"/>
<use href="#car" x="1321" y="676" width="56" height="40"/><use href="#car" x="1407" y="676" width="56" height="40"/><use href="#car" x="1492" y="676" width="56" height="40"/>
<use href="#car" x="1321" y="756" width="56" height="40"/><use href="#car" x="1407" y="756" width="56" height="40"/><use href="#car" x="1492" y="756" width="56" height="40"/>
<g fill="none" stroke-width="0.9">
<rect x="1314.6" y="594" width="67.4" height="48.7" stroke="#ed7d31"/>
<rect x="1400" y="594" width="68" height="49" stroke="#ed7d31" stroke-dasharray="1 1"/>
<rect x="1420" y="607" width="44" height="32" stroke="#ed7d31"/>
<rect x="1507" y="607" width="43" height="32" stroke="#ed7d31" stroke-dasharray="1 1"/>
<rect x="1522" y="617" width="26.5" height="18.5" stroke="#ed7d31"/>
<rect x="1314" y="674.7" width="67" height="48.3" stroke="#00b050"/>
<rect x="1403" y="674" width="62" height="37" stroke="#00b050"/>
<rect x="1490" y="674.7" width="61" height="44.3" stroke="#00b050"/>
<rect x="1315.6" y="754.7" width="66.9" height="48.8" stroke="#e00"/>
<rect x="1400" y="755" width="68" height="49" stroke="#e00"/>
<rect x="1486.7" y="755" width="67.3" height="48" stroke="#e00"/>
<path d="M1272 633 C1275 660 1300 657 1320 660 C1340 663 1348 668 1348 675" stroke="#00b050"/>
</g>
<rect x="1261" y="615" width="22" height="17" fill="#fff" stroke="#e00" stroke-width="1"/>
<use href="#car" x="1263" y="617" width="18" height="12"/>
<g font-size="7" text-anchor="middle">
<text x="1273" y="602">Template</text><text x="1273" y="611">image</text>
<text x="1268" y="661">Problem</text><text x="1433" y="661">Local minimum</text>
<text x="1268" y="741">Problem</text><text x="1433" y="741">The change of bounding box is large in consecutive image frames</text>
<text x="1264" y="819">Frame</text>
<text x="1346.6" y="820" font-style="italic" font-family="Liberation Serif,serif">f − 2</text><text x="1433" y="820" font-style="italic" font-family="Liberation Serif,serif">f − 1</text><text x="1519" y="820" font-style="italic" font-family="Liberation Serif,serif">f</text>
<text transform="translate(1304,618.7) rotate(-90)">Template matching</text>
<text transform="translate(1303,698.7) rotate(-90)">Detection</text>
<text transform="translate(1293,778.7) rotate(-90)">Corrected</text>
<text transform="translate(1304.4,778.7) rotate(-90)">bounding box</text>
</g>
<text x="1210" y="844" font-size="24" text-anchor="middle" textLength="270" lengthAdjust="spacingAndGlyphs">Precise vehicle detection</text>
</svg>
</body></html>
